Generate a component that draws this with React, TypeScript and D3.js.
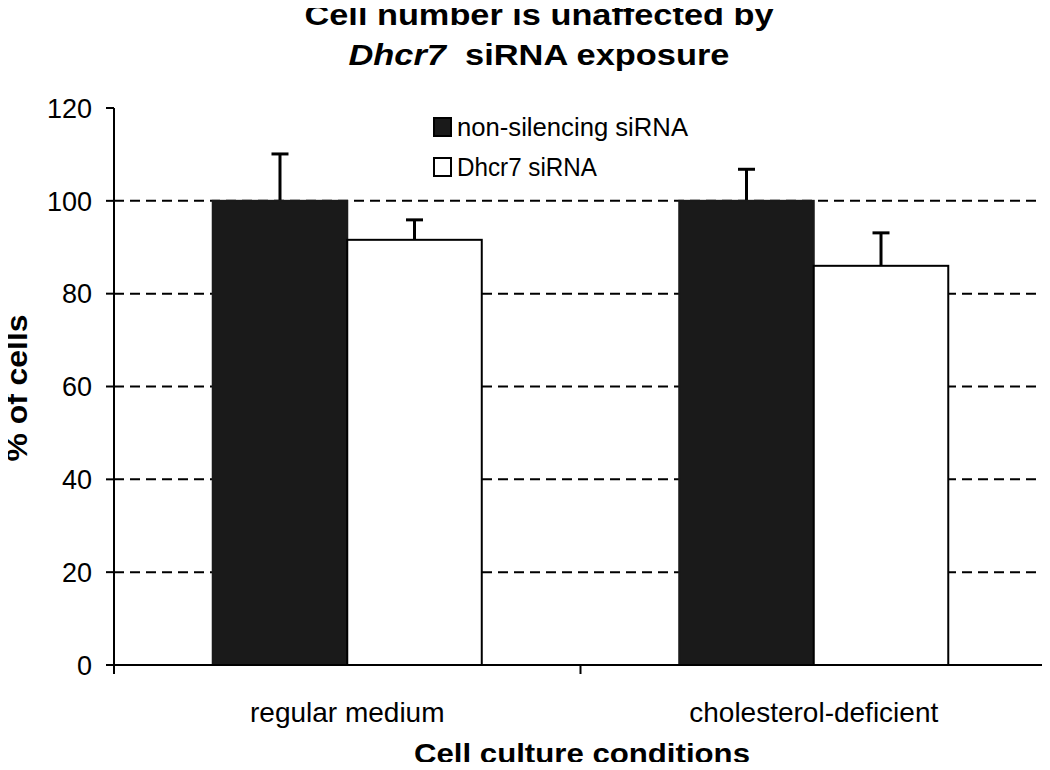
import React from 'react';
import * as d3 from 'd3';

const categories = ['regular medium', 'cholesterol-deficient'];
const seriesNames = ['non-silencing siRNA', 'Dhcr7 siRNA'];
const nonSilencing = [100, 100];
const nonSilencingErr = [10.1, 6.8];
const dhcr7 = [91.6, 86.0];
const dhcr7Err = [4.3, 7.1];
const yTicks = [0, 20, 40, 60, 80, 100, 120];
const gridTicks = [20, 40, 60, 80, 100];

const W = 1050;
const H = 770;
const left = 114;
const right = 1047;
const top = 108;
const bottom = 665;
const font = '"Liberation Sans", Arial, Helvetica, sans-serif';

const App: React.FC = () => {
  const y = d3.scaleLinear().domain([0, 120]).range([bottom, top]);
  const x0 = d3.scaleBand<string>().domain(categories).range([left, right]).padding(0);
  const x1 = d3
    .scaleBand<string>()
    .domain(seriesNames)
    .range([0, x0.bandwidth()])
    .paddingInner(0)
    .paddingOuter(0.734);

  const series = [
    { name: seriesNames[0], values: nonSilencing, errs: nonSilencingErr, fill: '#1a1a1a' },
    { name: seriesNames[1], values: dhcr7, errs: dhcr7Err, fill: '#ffffff' },
  ];

  // ticks on the x axis: band boundaries
  const xTickPos = [...categories.map((c) => x0(c)!), right];

  return (
    <svg width={W} height={H} style={{ display: 'block', margin: '-8px', background: '#fff' }} fontFamily={font}>
      {/* title */}
      <text x={539} y={25} textAnchor="middle" fontSize={29} fontWeight="bold" textLength={469} lengthAdjust="spacingAndGlyphs">
        Cell number is unaffected by
      </text>
      <text x={539} y={65} textAnchor="middle" fontSize={29} fontWeight="bold" textLength={381} lengthAdjust="spacingAndGlyphs">
        <tspan fontStyle="italic">Dhcr7</tspan>
        <tspan>{'\u00a0 siRNA exposure'}</tspan>
      </text>

      {/* gridlines */}
      {gridTicks.map((t) => (
        <line key={'g' + t} x1={left} x2={right} y1={y(t)} y2={y(t)} stroke="#000" strokeWidth={2} strokeDasharray="10,6" />
      ))}

      {/* bars */}
      {series.map((s) =>
        categories.map((c, i) => {
          const bx = x0(c)! + x1(s.name)!;
          const bw = x1.bandwidth();
          const cx = bx + bw / 2;
          return (
            <g key={s.name + c}>
              <line x1={cx} x2={cx} y1={y(s.values[i])} y2={y(s.values[i] + s.errs[i])} stroke="#000" strokeWidth={3} />
              <line x1={cx - 8.5} x2={cx + 8.5} y1={y(s.values[i] + s.errs[i])} y2={y(s.values[i] + s.errs[i])} stroke="#000" strokeWidth={3} />
              <rect
                x={bx}
                y={y(s.values[i])}
                width={bw}
                height={bottom - y(s.values[i])}
                fill={s.fill}
                stroke={s.fill === '#ffffff' ? '#000' : s.fill}
                strokeWidth={2}
              />
            </g>
          );
        })
      )}

      {/* y axis */}
      <line x1={left} x2={left} y1={top} y2={bottom + 9} stroke="#000" strokeWidth={2} />
      {yTicks.map((t) => (
        <g key={'y' + t}>
          <line x1={left - 8} x2={left} y1={y(t)} y2={y(t)} stroke="#000" strokeWidth={2} />
          <text x={92} y={y(t)} dy="0.36em" textAnchor="end" fontSize={27}>
            {t}
          </text>
        </g>
      ))}

      {/* right frame */}
      <line x1={right} x2={right} y1={top} y2={bottom + 9} stroke="#000" strokeWidth={2} />
      <line x1={right - 5} x2={right} y1={top} y2={top} stroke="#000" strokeWidth={2} />

      {/* x axis */}
      <line x1={left} x2={right} y1={bottom} y2={bottom} stroke="#000" strokeWidth={2} />
      {xTickPos.map((p, i) => (
        <line key={'xt' + i} x1={p} x2={p} y1={bottom} y2={bottom + 9} stroke="#000" strokeWidth={2} />
      ))}
      {categories.map((c) => (
        <text key={c} x={x0(c)! + x0.bandwidth() / 2} y={722} textAnchor="middle" fontSize={28}>
          {c}
        </text>
      ))}

      {/* axis titles */}
      <text x={582} y={763} textAnchor="middle" fontSize={28} fontWeight="bold" textLength={336} lengthAdjust="spacingAndGlyphs">
        Cell culture conditions
      </text>
      <text transform={`translate(27,${388}) rotate(-90)`} textAnchor="middle" fontSize={30} fontWeight="bold" textLength={147} lengthAdjust="spacingAndGlyphs">
        % of cells
      </text>

      {/* legend */}
      {series.map((s, i) => (
        <g key={'lg' + s.name} transform={`translate(434,${118 + i * 40})`}>
          <rect x={0} y={0} width={17} height={18} fill={s.fill} stroke="#000" strokeWidth={2} />
          <text x={23} y={18} fontSize={25} textLength={i === 0 ? 231 : 140} lengthAdjust="spacingAndGlyphs">
            {s.name}
          </text>
        </g>
      ))}
    </svg>
  );
};

export default App;
